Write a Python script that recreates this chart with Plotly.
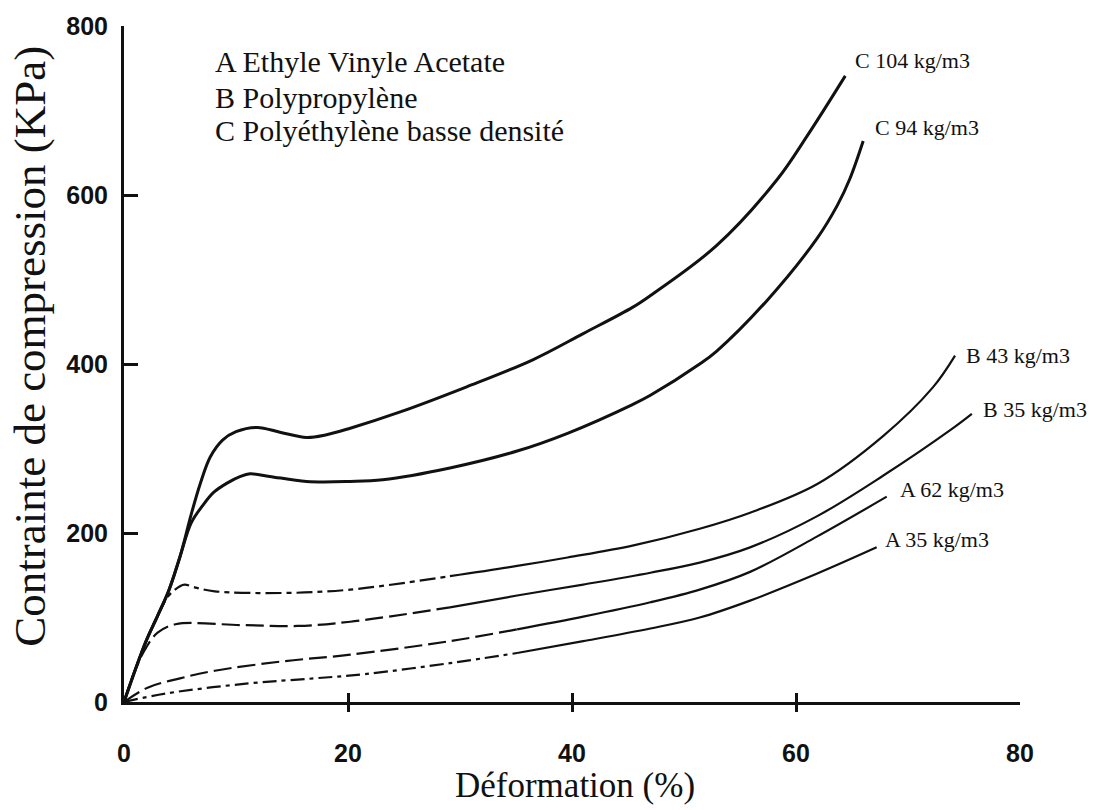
import plotly.graph_objects as go

# ---------------- data ----------------
c104_x = [0, 1, 2, 3, 4, 5, 6, 6.8, 7.7, 8.8, 10, 11.9, 14, 16.3, 18, 20.2, 24.6, 30.6, 36.5, 41, 45.4, 47, 52.9, 58.3, 61, 64.4]
c104_y = [0, 38, 73, 102, 132, 172, 222, 258, 290, 310, 320, 325, 319, 313, 316, 324, 343, 373, 405, 436, 467, 481, 540, 618, 670, 741]

c94_x = [0, 1, 2, 3, 4, 5, 6, 7, 8, 9.2, 10.4, 11.25, 13, 16.3, 20.2, 23.1, 29.1, 35.1, 39.6, 45.4, 47, 51.4, 52.9, 57.4, 61.9, 63.7, 64.8, 66]
c94_y = [0, 38, 73, 102, 132, 172, 212, 232, 248, 259, 267, 270, 267, 261, 261, 263, 277, 297, 318, 352, 363, 400, 415, 475, 549, 588, 619, 664]

b43_x = [0, 1, 2, 3, 4, 5, 5.4, 6.5, 8.1, 14.1, 20.2, 29.1, 35.1, 39.6, 45.4, 51.4, 55.9, 61.9, 67.8, 72.2, 74.2]
b43_y = [0, 38, 73, 102, 126, 137, 139, 135, 131, 129, 133, 149, 161, 171, 185, 205, 224, 258, 315, 372, 410]

b35_x = [0, 1, 2, 3, 4.6, 10.5, 15.5, 20.2, 29.1, 35.1, 41, 47, 51.4, 55.9, 61.9, 67.8, 73.8, 75.7]
b35_y = [0, 38, 65, 82, 92, 91, 90, 95, 112, 126, 139, 153, 165, 183, 220, 268, 322, 341]

a62_x = [0, 2.1, 5, 8.1, 14.1, 20.2, 29.1, 35.1, 41, 47, 51.4, 55.9, 61.9, 68.1]
a62_y = [0, 17, 28, 37, 48, 56, 72, 86, 101, 118, 133, 154, 196, 243]

a35_x = [0, 3.7, 11.1, 17, 21.5, 29.1, 35.1, 41, 47, 51.4, 55.9, 61.9, 67.2]
a35_y = [0, 10, 22, 28, 33, 46, 58, 72, 87, 100, 120, 152, 183]

curve_labels = ["C 104 kg/m3", "C 94 kg/m3", "B 43 kg/m3", "B 35 kg/m3", "A 62 kg/m3", "A 35 kg/m3"]
label_x = [65.1, 66.9, 75.0, 76.5, 69.1, 67.8]
label_y = [759, 680, 410, 346, 251, 192]

legend_lines = ["A Ethyle Vinyle Acetate", "B Polypropylène", "C Polyéthylène basse densité"]

x_ticks = [0, 20, 40, 60, 80]
x_ticktext = ["0", "20", "40", "60", "80"]
y_ticks = [0, 200, 400, 600, 800]
y_ticktext = ["0", "200", "400", "600", "800"]

x_title = "Déformation (%)"
y_title = "Contrainte de compression (KPa)"

# ---------------- figure ----------------
INK = "#111111"
fig = go.Figure()

for xs, ys in [(c104_x, c104_y), (c94_x, c94_y)]:
    fig.add_trace(go.Scatter(x=xs, y=ys, mode="lines",
                             line=dict(color=INK, width=3, shape="spline", smoothing=1.0),
                             showlegend=False, hoverinfo="skip"))

# dashed early part, solid later part
dashed_curves = [
    (b43_x, b43_y, 11, "16px,5px,5px,5px"),
    (b35_x, b35_y, 8, "18px,6px"),
    (a62_x, a62_y, 7, "18px,6px"),
    (a35_x, a35_y, 6, "14px,5px,4px,5px"),
]
for xs, ys, k, dash in dashed_curves:
    fig.add_trace(go.Scatter(x=xs[:k + 1], y=ys[:k + 1], mode="lines",
                             line=dict(color=INK, width=2.2, dash=dash, shape="spline", smoothing=1.0),
                             showlegend=False, hoverinfo="skip"))
    fig.add_trace(go.Scatter(x=xs[k:], y=ys[k:], mode="lines",
                             line=dict(color=INK, width=2.2, shape="spline", smoothing=1.0),
                             showlegend=False, hoverinfo="skip"))

# helper empty trace so the overlay axis (outer tick halves) is drawn
fig.add_trace(go.Scatter(x=[], y=[], xaxis="x2", showlegend=False))

serif = "Liberation Serif, Times New Roman, serif"
sans = "Liberation Sans, Arial, sans-serif"

for t, lx, ly in zip(curve_labels, label_x, label_y):
    fig.add_annotation(x=lx, y=ly, text=t, showarrow=False, xanchor="left", yanchor="middle",
                       font=dict(family=serif, size=22, color=INK))

legend_y_px = [50, 86, 119]
for t, py in zip(legend_lines, legend_y_px):
    fig.add_annotation(xref="paper", yref="paper", x=0, y=1, xshift=213 - 124, yshift=-(py - 15),
                       text=t, showarrow=False, xanchor="left", yanchor="middle",
                       font=dict(family=serif, size=30, color=INK))

# axis titles
fig.add_annotation(xref="paper", yref="paper", x=0, y=(702 - 341) / 687, xshift=30 - 124,
                   text=y_title, textangle=-90, showarrow=False, xanchor="center", yanchor="middle",
                   font=dict(family=serif, size=45, color=INK))
fig.add_annotation(xref="paper", yref="paper", x=(575 - 124) / 896, y=0, yshift=-(785 - 702),
                   text=x_title, showarrow=False, xanchor="center", yanchor="middle",
                   font=dict(family=serif, size=35, color=INK))

fig.update_layout(
    width=1099, height=810,
    margin=dict(l=124, r=79, t=15, b=108),
    paper_bgcolor="white", plot_bgcolor="white",
    xaxis=dict(range=[0, 80], showline=True, linecolor=INK, linewidth=2.5,
               ticks="inside", tickvals=x_ticks, ticktext=x_ticktext, ticklen=9, tickwidth=2.5, tickcolor=INK,
               showgrid=False, zeroline=False,
               tickfont=dict(family=sans, size=25, color=INK, weight="bold"),
               ticklabelstandoff=27),
    xaxis2=dict(range=[0, 80], overlaying="x", anchor="y", side="bottom",
                ticks="outside", tickvals=[20, 40, 60], ticklen=9, tickwidth=2.5, tickcolor=INK,
                showticklabels=False, showline=False, showgrid=False, zeroline=False),
    yaxis=dict(range=[0, 800], showline=True, linecolor=INK, linewidth=3,
               ticks="inside", tickvals=y_ticks, ticktext=y_ticktext, ticklen=14, tickwidth=2.5, tickcolor=INK,
               showgrid=False, zeroline=False,
               tickfont=dict(family=sans, size=25, color=INK, weight="bold"),
               ticklabelstandoff=8),
)

fig.write_html("out.html")
